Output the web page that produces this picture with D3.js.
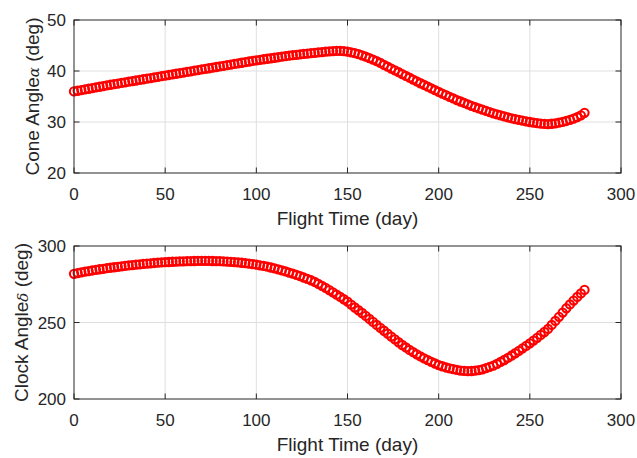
<!DOCTYPE html>
<html>
<head>
<meta charset="utf-8">
<script src="https://cdn.jsdelivr.net/npm/d3@7"></script>
<style>
  body { margin: 0; background: #fff; }
  text { font-family: Arial, "Liberation Sans", Helvetica, sans-serif; fill: #262626; }
</style>
</head>
<body>
<svg width="637" height="458"></svg>
<script>
// flight time (day)
var days = [0,2,4,6,8,10,12,14,16,18,20,22,24,26,28,30,32,34,36,38,40,42,44,46,48,50,
  52,54,56,58,60,62,64,66,68,70,72,74,76,78,80,82,84,86,88,90,92,94,96,98,100,
  102,104,106,108,110,112,114,116,118,120,122,124,126,128,130,132,134,136,138,140,
  142,144,146,148,150,152,154,156,158,160,162,164,166,168,170,172,174,176,178,180,
  182,184,186,188,190,192,194,196,198,200,202,204,206,208,210,212,214,216,218,220,
  222,224,226,228,230,232,234,236,238,240,242,244,246,248,250,252,254,256,258,260,
  262,264,266,268,270,272,274,276,278,280];

// cone angle alpha (deg)
var cone = [36.00,36.13,36.26,36.39,36.52,36.65,36.78,36.91,37.04,37.17,37.30,37.42,37.54,37.66,37.78,37.90,
  38.02,38.14,38.26,38.38,38.50,38.62,38.74,38.86,38.98,39.10,39.22,39.34,39.46,39.58,39.70,
  39.82,39.94,40.06,40.18,40.30,40.42,40.54,40.66,40.78,40.90,41.02,41.14,41.26,41.38,41.50,
  41.62,41.74,41.86,41.98,42.10,42.20,42.30,42.40,42.50,42.60,42.70,42.80,42.90,43.00,43.10,
  43.18,43.26,43.34,43.42,43.50,43.57,43.64,43.71,43.78,43.85,43.90,43.94,43.94,43.88,43.80,
  43.66,43.50,43.30,43.07,42.80,42.53,42.25,41.94,41.58,41.20,40.84,40.48,40.12,39.76,39.40,
  39.04,38.68,38.32,37.96,37.60,37.26,36.92,36.58,36.24,35.90,35.58,35.26,34.94,34.62,34.30,
  34.02,33.74,33.46,33.18,32.90,32.66,32.42,32.18,31.94,31.70,31.50,31.30,31.10,30.90,30.70,
  30.56,30.42,30.28,30.14,30.00,29.88,29.77,29.68,29.62,29.60,29.66,29.75,29.86,30.02,30.20,
  30.42,30.66,30.94,31.30,31.80];

// clock angle delta (deg)
var clock = [281.8,282.3,282.8,283.2,283.6,284.0,284.4,284.8,285.1,285.5,285.8,286.1,286.4,286.7,287.0,287.3,
  287.55,287.8,288.05,288.3,288.5,288.7,288.9,289.1,289.25,289.4,289.55,289.7,289.8,289.9,290.0,
  290.1,290.15,290.2,290.25,290.3,290.3,290.25,290.2,290.15,290.1,289.95,289.8,289.65,289.5,289.3,
  289.05,288.75,288.45,288.15,287.8,287.4,286.95,286.5,285.95,285.4,284.75,284.05,283.35,282.65,281.9,
  281.1,280.3,279.4,278.5,277.6,276.5,275.3,274.0,272.6,271.2,269.7,268.2,266.7,265.2,263.6,
  261.7,259.8,258.0,256.2,254.3,252.3,250.4,248.4,246.5,244.6,242.7,240.8,239.0,237.1,235.3,
  233.7,232.1,230.6,229.2,227.8,226.6,225.4,224.3,223.2,222.2,221.4,220.6,220.0,219.5,219.0,
  218.6,218.35,218.2,218.3,218.5,218.9,219.4,220.2,221.0,221.8,222.9,224.2,225.5,226.9,228.3,
  229.9,231.5,233.1,234.7,236.4,238.2,240.0,241.9,243.8,245.8,248.4,251.0,253.7,256.5,259.3,
  261.8,264.3,266.7,269.0,271.3];

var xTicks = [0,50,100,150,200,250,300];
var coneTicks = [20,30,40,50];
var clockTicks = [200,250,300];

var svg = d3.select("svg");
var left = 74, right = 621;
var axColor = "#262626", gridColor = "#dfdfdf";

var x = d3.scaleLinear().domain([0, 300]).range([left, right]);

function panel(top, bottom, yDomain, yTicks, yVals, labelX, labelMain, greek) {
    var y = d3.scaleLinear().domain(yDomain).range([bottom, top]);
    var g = svg.append("g");
    var tl = 5.5;

    // grid
    g.append("g").selectAll("line").data(xTicks.slice(1, -1)).join("line")
        .attr("x1", d => x(d)).attr("x2", d => x(d))
        .attr("y1", top).attr("y2", bottom)
        .attr("stroke", gridColor).attr("stroke-width", 1);
    g.append("g").selectAll("line").data(yTicks.slice(1, -1)).join("line")
        .attr("x1", left).attr("x2", right)
        .attr("y1", d => y(d)).attr("y2", d => y(d))
        .attr("stroke", gridColor).attr("stroke-width", 1);

    // data markers
    var pts = days.map((d, i) => [d, yVals[i]]);
    g.append("g").selectAll("circle").data(pts).join("circle")
        .attr("cx", d => x(d[0])).attr("cy", d => y(d[1]))
        .attr("r", 4.1)
        .attr("fill", "none").attr("stroke", "#ff0000").attr("stroke-width", 2.1);

    // box
    g.append("rect").attr("x", left).attr("y", top)
        .attr("width", right - left).attr("height", bottom - top)
        .attr("fill", "none").attr("stroke", axColor).attr("stroke-width", 1);

    // ticks, inward on all sides
    var tk = g.append("g").attr("stroke", axColor).attr("stroke-width", 1);
    xTicks.forEach(function(t) {
        tk.append("line").attr("x1", x(t)).attr("x2", x(t)).attr("y1", bottom).attr("y2", bottom - tl);
        tk.append("line").attr("x1", x(t)).attr("x2", x(t)).attr("y1", top).attr("y2", top + tl);
    });
    yTicks.forEach(function(t) {
        tk.append("line").attr("x1", left).attr("x2", left + tl).attr("y1", y(t)).attr("y2", y(t));
        tk.append("line").attr("x1", right).attr("x2", right - tl).attr("y1", y(t)).attr("y2", y(t));
    });

    // tick labels
    g.append("g").selectAll("text").data(xTicks).join("text")
        .attr("x", d => x(d)).attr("y", bottom + 27)
        .attr("text-anchor", "middle").attr("font-size", 17)
        .text(d => d);
    g.append("g").selectAll("text").data(yTicks).join("text")
        .attr("x", left - 8).attr("y", d => y(d) + 6)
        .attr("text-anchor", "end").attr("font-size", 17)
        .text(d => d);

    // axis labels
    g.append("text").attr("x", (left + right) / 2).attr("y", bottom + 52)
        .attr("text-anchor", "middle").attr("font-size", 19)
        .text("Flight Time (day)");

    var yl = g.append("text")
        .attr("transform", "translate(" + labelX + "," + ((top + bottom) / 2) + ") rotate(-90)")
        .attr("text-anchor", "middle").attr("font-size", 19);
    yl.append("tspan").text(labelMain);
    yl.append("tspan").attr("font-family", "'DejaVu Serif', serif").attr("font-style", "italic")
        .attr("font-size", 15).text(greek);
    yl.append("tspan").text(" (deg)");
}

panel(20, 173, [20, 50], coneTicks, cone, 39, "Cone Angle", "α");
panel(246, 399, [200, 300], clockTicks, clock, 28, "Clock Angle", "δ");
</script>
</body>
</html>
